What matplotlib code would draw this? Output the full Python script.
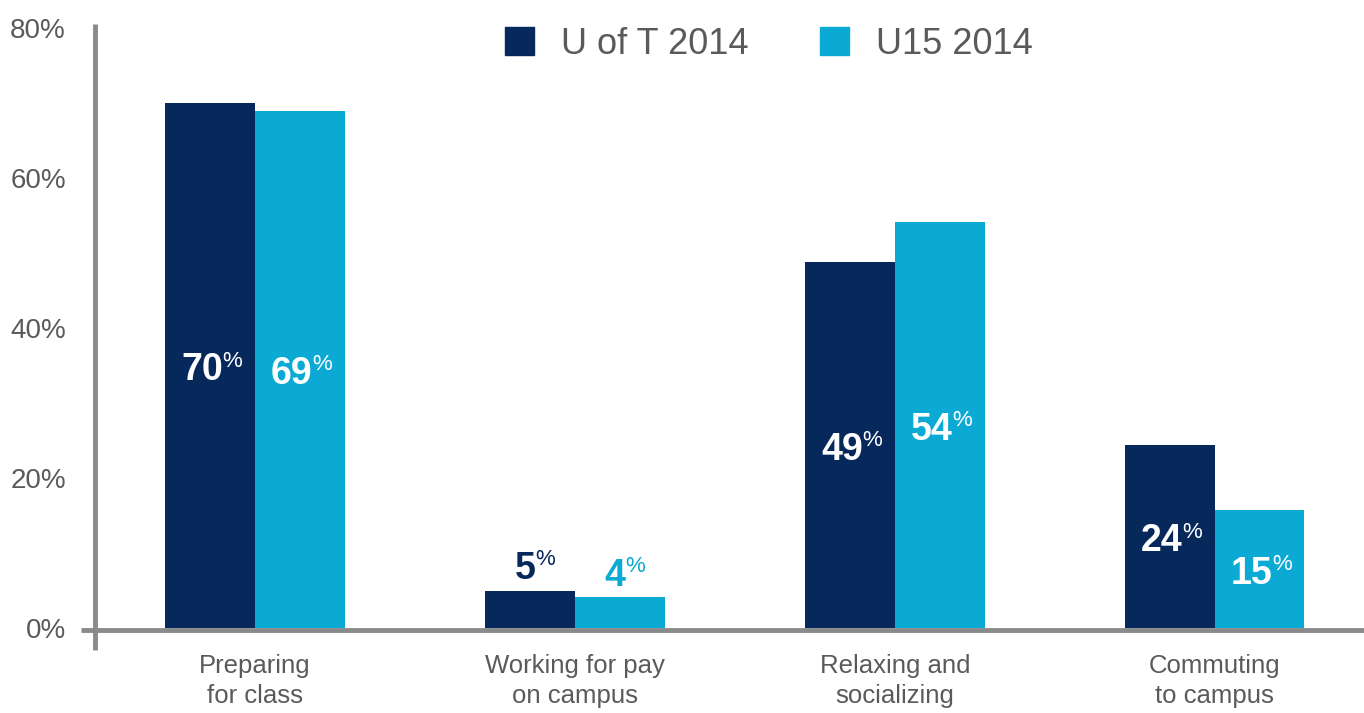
import numpy as np
import matplotlib.pyplot as plt
from matplotlib.patches import Patch

plt.rcParams['font.family'] = ['Liberation Sans', 'DejaVu Sans']

categories = ["Preparing\nfor class", "Working for pay\non campus",
              "Relaxing and\nsocializing", "Commuting\nto campus"]
series_names = ["U of T 2014", "U15 2014"]
uoft = [70, 5, 48.8, 24.4]      # bar heights
u15 = [69, 4.1, 54.1, 15.7]
uoft_lbl = ["70", "5", "49", "24"]
u15_lbl = ["69", "4", "54", "15"]
yticks = [0, 20, 40, 60, 80]

dark = "#06285A"
light = "#0BAAD4"
gray = "#8A8A8A"
txt = "#5A5A5A"

fig = plt.figure(figsize=(13.64, 7.13), dpi=100)
ax = fig.add_axes([95 / 1364, (713 - 628) / 713, 1269 / 1364, 600 / 713])

x = np.arange(len(categories))
w = 0.28
ax.bar(x - w / 2, uoft, w, color=dark, zorder=2)
ax.bar(x + w / 2, u15, w, color=light, zorder=2)

ax.set_xlim(-0.5, 3.466)
ax.set_ylim(0, 80)

for sp in ax.spines.values():
    sp.set_visible(False)

# axis lines
ax.plot([0, 0], [-0.036, 1.007], transform=ax.transAxes, color=gray,
        lw=3.5, clip_on=False, zorder=3, solid_capstyle='butt')
ax.plot([-0.011, 1], [-0.003, -0.003], transform=ax.transAxes, color=gray,
        lw=3.5, clip_on=False, zorder=3, solid_capstyle='butt')

ax.set_yticks(yticks)
ax.set_yticklabels([f"{t}%" for t in yticks])
ax.tick_params(axis='y', length=0, pad=21, labelsize=20, labelcolor=txt)
ax.set_xticks(x)
ax.set_xticklabels(categories, linespacing=1.3)
ax.tick_params(axis='x', length=0, pad=19, labelsize=18.5, labelcolor=txt)


def label(xc, v, s, col_bar):
    if v >= 10:
        y = v / 2
        c = "white"
    else:
        y = v + 3.5
        c = col_bar
    nd = len(s)
    dx = 5 * nd - 1  # shift so number+% is centred on the bar
    ax.annotate(s, (xc, y), xytext=(dx, -10.5), textcoords='offset points',
                ha='right', va='baseline', fontsize=27, fontweight='bold',
                color=c, zorder=4)
    ax.annotate("%", (xc, y), xytext=(dx, -0.8), textcoords='offset points',
                ha='left', va='baseline', fontsize=16, color=c, zorder=4)


for i in range(len(categories)):
    label(x[i] - w / 2, uoft[i], uoft_lbl[i], dark)
    label(x[i] + w / 2, u15[i], u15_lbl[i], light)

handles = [Patch(color=dark), Patch(color=light)]
fig.legend(handles, series_names, loc='center', ncol=2, frameon=False,
           bbox_to_anchor=(769 / 1364, 1 - 44 / 713), fontsize=26,
           handlelength=0.8, handleheight=0.8, handletextpad=0.75,
           columnspacing=2.0, labelcolor=txt)

fig.savefig("out.png", dpi=100)
